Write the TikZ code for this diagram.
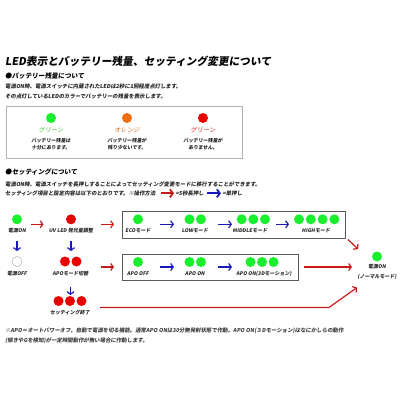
\documentclass[tikz,border=0pt]{standalone}
\usepackage{fontspec}
\usetikzlibrary{arrows.meta}
\newfontfamily\jp[FakeSlant=0.15]{Noto Sans CJK JP}
\definecolor{ledgreen}{RGB}{25,240,45}
\definecolor{ledred}{RGB}{235,0,0}
\definecolor{ledorange}{RGB}{240,110,15}
\definecolor{arrred}{RGB}{200,25,25}
\definecolor{arrblue}{RGB}{25,25,185}
\definecolor{txtgreen}{RGB}{70,200,60}
\definecolor{txtorange}{RGB}{225,110,20}
\definecolor{txtred}{RGB}{215,30,30}
\tikzset{
  led/.style={circle, minimum size=10pt, inner sep=0pt},
  lbl/.style={inner sep=0pt, font=\jp\bfseries\fontsize{5}{6}\selectfont, text=black!85},
  txt/.style={anchor=west, inner sep=0pt, font=\jp\bfseries\fontsize{5.4}{6}\selectfont, text=black!85},
  head/.style={anchor=west, inner sep=0pt, font=\jp\bfseries\fontsize{6.6}{8}\selectfont},
  desc/.style={inner sep=0pt, font=\jp\bfseries\fontsize{4.9}{6}\selectfont, text=black!85},
  clbl/.style={inner sep=0pt, font=\jp\fontsize{6.3}{7}\selectfont},
  rarr/.style={draw=arrred, line width=1.2pt, -{Straight Barb[length=2.6pt,width=7pt]}},
  barr/.style={draw=arrblue, line width=1.2pt, -{Straight Barb[length=2.6pt,width=7pt]}},
  legr/.style={draw=arrred, line width=1.8pt, -{Straight Barb[length=3pt,width=8pt]}},
  legb/.style={draw=arrblue, line width=1.8pt, -{Straight Barb[length=3pt,width=8pt]}},
  flowbox/.style={draw=black!65, line width=0.8pt},
  infobox/.style={draw=black!30, line width=0.8pt},
}
\begin{document}
\begin{tikzpicture}[x=1pt,y=-1pt]
\useasboundingbox[fill=white] (0,0) rectangle (400,400);

% title and first section
\node[anchor=west, inner sep=0pt, font=\jp\bfseries\fontsize{10.7}{12}\selectfont] (title) at (5,61.5) {LED表示とバッテリー残量、セッティング変更について};
\node[head] (h1) at (5,75.7) {●バッテリー残量について};
\node[txt] (t1) at (5,86) {電源ON時、電源スイッチに内蔵されたLEDは2秒に1回程度点灯します。};
\node[txt] (t2) at (5,96) {その点灯しているLEDのカラーでバッテリーの残量を表示します。};

\draw[infobox] (6,106.5) rectangle (242,158.3);
\node[led, fill=ledgreen] (cg) at (51,118) {};
\node[led, fill=ledorange] (co) at (127,118) {};
\node[led, fill=ledred] (cr) at (203,118) {};
\node[clbl, text=txtgreen] (lg) at (51,130.5) {グリーン};
\node[clbl, text=txtorange] (lo) at (127,130.5) {オレンジ};
\node[clbl, text=txtred] (lr) at (203,130.5) {グリーン};
\node[desc] (dg1) at (51,140.8) {バッテリー残量は};
\node[desc] (dg2) at (51,147.3) {十分にあります。};
\node[desc] (do1) at (127,140.8) {バッテリー残量が};
\node[desc] (do2) at (127,147.3) {残り少ないです。};
\node[desc] (dr1) at (203,140.8) {バッテリー残量が};
\node[desc] (dr2) at (203,147.3) {ありません。};

% second section
\node[head] (h2) at (5,171.7) {●セッティングについて};
\node[txt] (t3) at (5,184) {電源ON時、電源スイッチを長押しすることによってセッティング変更モードに移行することができます。};
\node[txt] (t4) at (5,193.3) {セッティング項目と設定内容は以下のとおりです。※操作方法};
\coordinate (lr1) at (161,193.3); \coordinate (lr2) at (174,193.3);
\draw[legr] (lr1) -- (lr2);
\node[txt] (t5) at (175.5,193.3) {=5秒長押し};
\coordinate (lb1) at (207,193.3); \coordinate (lb2) at (221,193.3);
\draw[legb] (lb1) -- (lb2);
\node[txt] (t6) at (222.5,193.3) {=単押し};

% flow row 1
\node[led, fill=ledgreen] (on1) at (17,219.3) {};
\node[lbl] (on1l) at (17,231) {電源ON};
\coordinate (a1s) at (31,224.3); \coordinate (a1e) at (43.5,224.3);
\draw[rarr] (a1s) -- (a1e);
\node[led, fill=ledred] (uv) at (71,219.3) {};
\node[lbl] (uvl) at (71,231) {UV LED 発光量調整};
\coordinate (a2s) at (101,224.3); \coordinate (a2e) at (114,224.3);
\draw[rarr] (a2s) -- (a2e);

\draw[flowbox] (122.5,211) rectangle (345,238);
\node[led, fill=ledgreen] (eco) at (138,219.3) {};
\node[lbl] (ecol) at (138,231) {ECOモード};
\coordinate (b1s) at (160,224.3); \coordinate (b1e) at (174,224.3);
\draw[barr] (b1s) -- (b1e);
\node[led, fill=ledgreen] (low1) at (189.5,219.3) {};
\node[led, fill=ledgreen] (low2) at (201,219.3) {};
\node[lbl] (lowl) at (195,231) {LOWモード};
\coordinate (b2s) at (218,224.3); \coordinate (b2e) at (232,224.3);
\draw[barr] (b2s) -- (b2e);
\node[led, fill=ledgreen] (mid1) at (241.7,219.3) {};
\node[led, fill=ledgreen] (mid2) at (253.3,219.3) {};
\node[led, fill=ledgreen] (mid3) at (265,219.3) {};
\node[lbl] (midl) at (250,231) {MIDDLEモード};
\coordinate (b3s) at (276,224.3); \coordinate (b3e) at (289,224.3);
\draw[barr] (b3s) -- (b3e);
\node[led, fill=ledgreen] (hi1) at (299,219.3) {};
\node[led, fill=ledgreen] (hi2) at (310.8,219.3) {};
\node[led, fill=ledgreen] (hi3) at (322.6,219.3) {};
\node[led, fill=ledgreen] (hi4) at (334.4,219.3) {};
\node[lbl] (hil) at (316,231) {HIGHモード};

\coordinate (d1s) at (348,239.5); \coordinate (d1e) at (358,249);
\draw[rarr] (d1s) -- (d1e);

\node[led, fill=ledgreen] (norm) at (377,256.5) {};
\node[lbl] (norml1) at (377,267) {電源ON};
\node[lbl] (norml2) at (377,277) {(ノーマルモード)};

% down arrows
\coordinate (v1s) at (17,241); \coordinate (v1e) at (17,251);
\draw[barr] (v1s) -- (v1e);
\coordinate (v2s) at (71,241); \coordinate (v2e) at (71,251);
\draw[barr] (v2s) -- (v2e);

% flow row 2
\node[led, draw=black!30, line width=0.5pt, fill=white] (off) at (17,261.5) {};
\node[lbl] (offl) at (17,273.5) {電源OFF};
\node[led, fill=ledred] (apo1) at (65,261.5) {};
\node[led, fill=ledred] (apo2) at (76.5,261.5) {};
\node[lbl] (apol) at (70.5,273.5) {APOモード切替};
\coordinate (a3s) at (101,267); \coordinate (a3e) at (114,267);
\draw[rarr] (a3s) -- (a3e);

\draw[flowbox] (122.5,254) rectangle (298,280);
\node[led, fill=ledgreen] (aoff) at (138,262) {};
\node[lbl] (aoffl) at (138,274) {APO OFF};
\coordinate (b4s) at (160,267); \coordinate (b4e) at (174,267);
\draw[barr] (b4s) -- (b4e);
\node[led, fill=ledgreen] (aon1) at (189.5,262) {};
\node[led, fill=ledgreen] (aon2) at (201,262) {};
\node[lbl] (aonl) at (195,274) {APO ON};
\coordinate (b5s) at (218,267); \coordinate (b5e) at (232,267);
\draw[barr] (b5s) -- (b5e);
\node[led, fill=ledgreen] (a3d1) at (250.5,262) {};
\node[led, fill=ledgreen] (a3d2) at (262,262) {};
\node[led, fill=ledgreen] (a3d3) at (273.5,262) {};
\node[lbl] (a3dl) at (264,274) {APO ON(3Dモーション)};
\coordinate (a4s) at (304,267); \coordinate (a4e) at (352,267);
\draw[rarr] (a4s) -- (a4e);

% flow row 3
\coordinate (v3s) at (70.5,286.5); \coordinate (v3e) at (70.5,295);
\draw[barr] (v3s) -- (v3e);
\node[led, fill=ledred] (end1) at (58.5,301) {};
\node[led, fill=ledred] (end2) at (70,301) {};
\node[led, fill=ledred] (end3) at (81.5,301) {};
\node[lbl] (endl) at (70,312.5) {セッティング終了};
\coordinate (l1) at (100,307.5); \coordinate (l2) at (329,307.5); \coordinate (l3) at (357,287.5);
\draw[rarr] (l1) -- (l2) -- (l3);

% footnote
\node[txt, text=black!75] (f1) at (5,330.5) {※APO＝オートパワーオフ。自動で電源を切る機能。通常APO ONは30分無発射状態で作動。APO ON(３Dモーション)はなにかしらの動作};
\node[txt, text=black!75] (f2) at (5,341) {(傾きやGを検知)が一定時間動作が無い場合に作動します。};
\end{tikzpicture}
\end{document}
